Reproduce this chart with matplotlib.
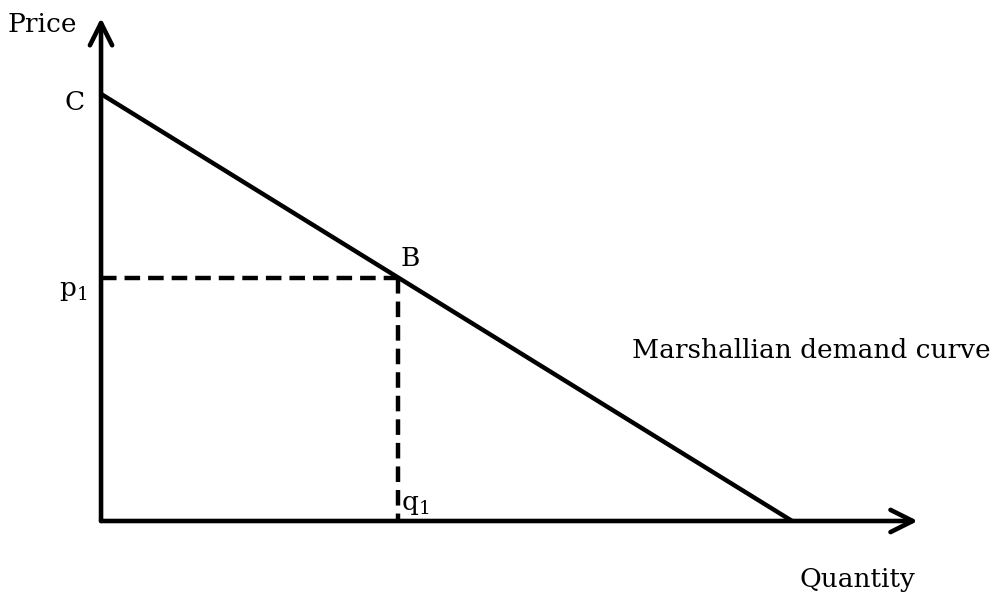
import matplotlib
matplotlib.use("Agg")
from matplotlib import pyplot as plt

# demand curve: price = C - slope * quantity
price_intercept = 10.0   # point C
quantity_intercept = 10.0
q1 = 4.3
p1 = price_intercept - price_intercept / quantity_intercept * q1   # point B

x_axis_end = 11.82
y_axis_end = 11.78

plt.rcParams['font.family'] = ['DejaVu Serif', 'DejaVu Sans']
plt.rcParams['mathtext.fontset'] = 'dejavuserif'

fig = plt.figure(figsize=(9.98, 5.95), dpi=100)
ax = fig.add_axes((0, 0, 1, 1))
ax.set_xlim(-1.462, 12.98)
ax.set_ylim(-1.733, 12.20)
ax.axis('off')

arrow = dict(arrowstyle='->,head_length=1.6,head_width=0.8', lw=3.3,
             color='black', shrinkA=0, shrinkB=0, capstyle='round',
             joinstyle='round')
ax.annotate('', xy=(x_axis_end, 0), xytext=(0, 0), arrowprops=arrow)
ax.annotate('', xy=(0, y_axis_end), xytext=(0, 0), arrowprops=arrow)

# demand line
ax.plot([0, quantity_intercept], [price_intercept, 0], color='black', lw=3.2,
        solid_capstyle='butt')

# dashed guides to B
dash = dict(color='black', lw=3.2, dashes=(3.5, 1.8), dash_capstyle='butt')
ax.plot([0, q1], [p1, p1], **dash)
ax.plot([q1, q1], [p1, 0], **dash)

fs = 19
ax.text(-0.85, 11.62, 'Price', fontsize=fs, ha='center', va='center')
ax.text(-0.39, price_intercept - 0.2, 'C', fontsize=fs, ha='center', va='center')
ax.text(-0.4, p1 - 0.3, r'$\mathrm{p}_1$', fontsize=fs, ha='center', va='center')
ax.text(q1 + 0.17, p1 + 0.45, 'B', fontsize=fs, ha='center', va='center')
ax.text(q1 + 0.25, 0.38, r'$\mathrm{q}_1$', fontsize=fs, ha='center', va='center')
ax.text(12.87, 4.0, 'Marshallian demand curve', fontsize=fs, ha='right',
        va='center')
ax.text(10.95, -1.38, 'Quantity', fontsize=fs, ha='center', va='center')

fig.savefig('out.png', dpi=100, facecolor='white')
